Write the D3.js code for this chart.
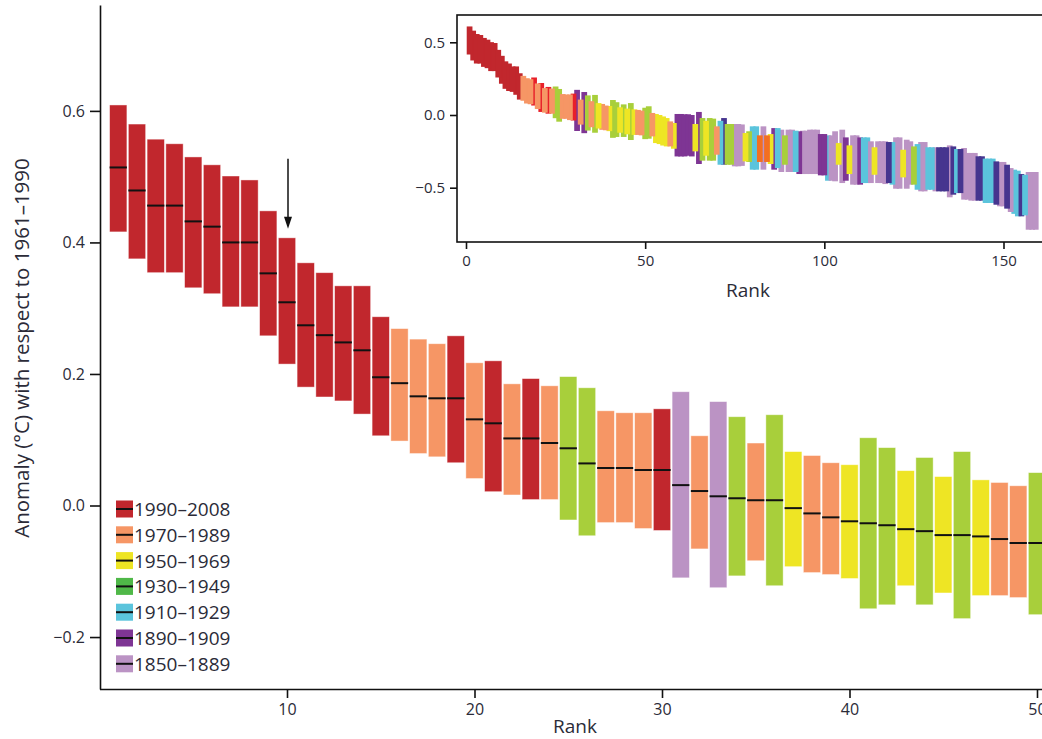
<!DOCTYPE html>
<html>
<head>
<meta charset="utf-8">
<script src="https://cdn.jsdelivr.net/npm/d3@7"></script>
<style>
  body { margin: 0; background: #fff; }
  svg { display: block; }
  text { font-family: "Open Sans", "Noto Sans", sans-serif; fill: #2b2b38; }
</style>
</head>
<body>
<svg id="chart" width="1042" height="739"></svg>
<script>
// Ranked annual global temperature anomalies (°C, relative to 1961–1990),
// each bar is the uncertainty range, the black tick the best estimate.

// Upper and lower bounds for ranks 1–159
const highs = [
  0.609, 0.580, 0.557, 0.550, 0.530, 0.518, 0.501, 0.495, 0.448, 0.407,
  0.369, 0.354, 0.334, 0.334, 0.287, 0.269, 0.253, 0.246, 0.258, 0.217,
  0.220, 0.185, 0.193, 0.182, 0.196, 0.179, 0.144, 0.141, 0.141, 0.147,
  0.173, 0.106, 0.158, 0.135, 0.095, 0.138, 0.082, 0.076, 0.065, 0.062,
  0.103, 0.088, 0.053, 0.073, 0.044, 0.082, 0.039, 0.035, 0.030, 0.050,
  0.060, 0.014, 0.007, 0.000, -0.010, -0.021, -0.044, -0.055, 0.007, 0.007,
  0.005, 0.005, 0.000, -0.062, 0.021, -0.021, -0.040, -0.021, -0.025, -0.078,
  -0.040, -0.021, -0.062, -0.062, -0.062, -0.062, -0.065, -0.124, -0.112, -0.078,
  -0.078, -0.140, -0.078, -0.140, -0.131, -0.090, -0.090, -0.101, -0.140, -0.101,
  -0.101, -0.108, -0.112, -0.108, -0.108, -0.101, -0.101, -0.101, -0.131, -0.131,
  -0.140, -0.140, -0.112, -0.193, -0.101, -0.154, -0.209, -0.140, -0.140, -0.154,
  -0.154, -0.154, -0.181, -0.222, -0.181, -0.181, -0.181, -0.186, -0.186, -0.154,
  -0.154, -0.239, -0.170, -0.181, -0.216, -0.200, -0.186, -0.186, -0.222, -0.222,
  -0.222, -0.222, -0.222, -0.222, -0.209, -0.216, -0.234, -0.234, -0.227, -0.261,
  -0.261, -0.261, -0.284, -0.284, -0.300, -0.300, -0.300, -0.319, -0.323, -0.323,
  -0.342, -0.365, -0.376, -0.383, -0.406, -0.411, -0.392, -0.392, -0.392
];
const lows = [
  0.416, 0.375, 0.354, 0.354, 0.331, 0.322, 0.302, 0.302, 0.258, 0.215,
  0.180, 0.165, 0.159, 0.139, 0.106, 0.098, 0.079, 0.074, 0.065, 0.041,
  0.021, 0.016, 0.009, 0.009, -0.022, -0.046, -0.026, -0.026, -0.035, -0.038,
  -0.110, -0.066, -0.125, -0.107, -0.084, -0.122, -0.093, -0.102, -0.105, -0.111,
  -0.157, -0.151, -0.122, -0.151, -0.133, -0.172, -0.137, -0.137, -0.140, -0.166,
  -0.163, -0.147, -0.193, -0.200, -0.210, -0.216, -0.216, -0.232, -0.285, -0.285,
  -0.285, -0.280, -0.285, -0.250, -0.337, -0.314, -0.280, -0.314, -0.314, -0.273,
  -0.342, -0.342, -0.342, -0.342, -0.353, -0.353, -0.350, -0.319, -0.323, -0.376,
  -0.376, -0.323, -0.376, -0.323, -0.337, -0.376, -0.365, -0.392, -0.342, -0.392,
  -0.392, -0.392, -0.406, -0.406, -0.406, -0.406, -0.406, -0.406, -0.415, -0.415,
  -0.452, -0.452, -0.456, -0.342, -0.468, -0.452, -0.406, -0.479, -0.479, -0.479,
  -0.468, -0.468, -0.468, -0.411, -0.468, -0.468, -0.475, -0.468, -0.479, -0.507,
  -0.507, -0.429, -0.507, -0.479, -0.479, -0.514, -0.525, -0.525, -0.514, -0.514,
  -0.525, -0.525, -0.525, -0.525, -0.566, -0.548, -0.537, -0.537, -0.582, -0.582,
  -0.589, -0.589, -0.589, -0.589, -0.605, -0.605, -0.605, -0.617, -0.628, -0.628,
  -0.644, -0.667, -0.680, -0.697, -0.697, -0.690, -0.789, -0.789, -0.789
];
// Best estimates for the 50 warmest years
const medians = [
  0.514, 0.479, 0.456, 0.456, 0.432, 0.424, 0.400, 0.400, 0.353, 0.309,
  0.274, 0.259, 0.248, 0.236, 0.195, 0.186, 0.166, 0.163, 0.163, 0.131,
  0.125, 0.102, 0.102, 0.095, 0.087, 0.064, 0.057, 0.057, 0.054, 0.054,
  0.031, 0.022, 0.014, 0.011, 0.008, 0.008, -0.004, -0.012, -0.018, -0.024,
  -0.027, -0.030, -0.036, -0.039, -0.045, -0.045, -0.047, -0.051, -0.057, -0.057
];

// Period of each ranked year (main panel, ranks 1–50)
const mainPeriod = [
  "R","R","R","R","R","R","R","R","R","R","R","R","R","R","R",
  "O","O","O","R","O","R","O","R","O","G","G","O","O","O","R",
  "L","O","L","G","O","G","Y","O","O","Y","G","G","Y","G","Y",
  "G","Y","O","O","G"
];
// Colour key of each ranked year in the small panel (ranks 1–159)
const insetPeriod = [
  "R","R","R","R","R","R","R","R","R","R","R","R","R","R","R",
  "O","O","O","B","O","B","O","B","O","G","G","O","O","O","B",
  "P","O","P","G","O","G","Y","O","O","Y","G","G","Y","G","Y",
  "G","Y","O","O","G",
  "G","O","Y","Y","Y","Y","O","Y","P","P",
  "P","P","P","Y","P","G","Y","G","G","O",
  "C","I","G","G","L","L","L","Y","G","C",
  "C","X","L","X","Y","P","C","L","G","L",
  "L","C","P","L","L","L","L","L","P","P",
  "C","L","L","Y","L","P","Y","L","L","P",
  "C","C","L","Y","L","L","L","I","C","L",
  "L","Y","L","L","G","C","L","L","C","C",
  "L","I","I","I","L","I","C","I","L","L",
  "L","L","I","I","C","C","C","I","L","L",
  "I","L","C","C","I","C","L","L","L"
];

const palette = {
  R: "#c1272d", O: "#f69665", Y: "#eee524", G: "#a8cf3b",
  C: "#5bc4dc", P: "#7e3594", L: "#bb93c4",
  B: "#e8202a", X: "#f36f21", I: "#46358f"
};

const legendLabels = ["1990–2008", "1970–1989", "1950–1969", "1930–1949", "1910–1929", "1890–1909", "1850–1889"];
const legendColors = ["#c1272d", "#f69665", "#eee524", "#4fb848", "#5bc4dc", "#7e3594", "#bb93c4"];

const mainTicksY = [-0.2, 0, 0.2, 0.4, 0.6];
const mainTicksX = [10, 20, 30, 40, 50];
const insetTicksY = [-0.5, 0, 0.5];
const insetTicksX = [0, 50, 100, 150];

const svg = d3.select("#chart");
const fmt = d3.format(".1f");

// ---------- main panel ----------
const x = d3.scaleLinear().domain([0, 51]).range([99.5, 1055.75]);
const y = d3.scaleLinear().domain([-0.279, 0.761]).range([689, 5]);
const step = x(1) - x(0);
const bw = step * 0.923;

const mainData = medians.map((m, i) => ({
  rank: i + 1, hi: highs[i], lo: lows[i], med: m, p: mainPeriod[i]
}));

const gMain = svg.append("g");
gMain.selectAll("rect.bar").data(mainData).join("rect")
  .attr("class", "bar")
  .attr("x", d => x(d.rank) - bw / 2)
  .attr("width", bw)
  .attr("y", d => y(d.hi))
  .attr("height", d => y(d.lo) - y(d.hi))
  .attr("fill", d => palette[d.p])
  .attr("stroke", "rgba(255,255,255,0.55)")
  .attr("stroke-width", 0.8);

gMain.selectAll("line.med").data(mainData).join("line")
  .attr("class", "med")
  .attr("x1", d => x(d.rank) - bw / 2)
  .attr("x2", d => x(d.rank) + bw / 2)
  .attr("y1", d => y(d.med))
  .attr("y2", d => y(d.med))
  .attr("stroke", "#111")
  .attr("stroke-width", 2);

// arrow marking the tenth-ranked year
const arrowRank = 10;
const ax = x(arrowRank) + 1;
const aTip = y(highs[arrowRank - 1]) - 9;
gMain.append("line")
  .attr("x1", ax).attr("x2", ax)
  .attr("y1", aTip - 70).attr("y2", aTip - 8)
  .attr("stroke", "#111").attr("stroke-width", 1.5);
gMain.append("path")
  .attr("d", `M${ax - 4},${aTip - 12}L${ax + 4},${aTip - 12}L${ax},${aTip}Z`)
  .attr("fill", "#111");

// axes
const yAxis = svg.append("g")
  .attr("transform", "translate(100,0)")
  .call(d3.axisLeft(y).tickValues(mainTicksY).tickFormat(fmt).tickSize(10).tickSizeOuter(0).tickPadding(5));
const xAxis = svg.append("g")
  .attr("transform", "translate(0,689)")
  .call(d3.axisBottom(x).tickValues(mainTicksX).tickFormat(d3.format("d")).tickSize(9).tickSizeOuter(0).tickPadding(6));
[yAxis, xAxis].forEach(a => {
  a.select(".domain").attr("stroke", "#111").attr("stroke-width", 1.6);
  a.selectAll(".tick line").attr("stroke", "#111").attr("stroke-width", 1.6);
  a.selectAll(".tick text").attr("font-size", 16).attr("fill", "#2b2b38")
    .attr("font-family", "\"Open Sans\", sans-serif");
});

svg.append("text")
  .attr("transform", "translate(29,348) rotate(-90)")
  .attr("text-anchor", "middle")
  .attr("font-size", 20.5)
  .text("Anomaly (°C) with respect to 1961–1990");
svg.append("text")
  .attr("x", 575).attr("y", 733)
  .attr("text-anchor", "middle")
  .attr("font-size", 19)
  .text("Rank");

// legend
const leg = svg.append("g");
legendLabels.forEach((lab, i) => {
  const cy = 509 + i * 25.8;
  leg.append("rect").attr("x", 116).attr("y", cy - 8.5).attr("width", 17).attr("height", 17)
    .attr("fill", legendColors[i]);
  leg.append("line").attr("x1", 116).attr("x2", 133).attr("y1", cy).attr("y2", cy)
    .attr("stroke", "#111").attr("stroke-width", 2);
  leg.append("text").attr("x", 134).attr("y", cy + 7).attr("font-size", 19).text(lab);
});

// ---------- inset: all ranks ----------
const ix = d3.scaleLinear().domain([0, 150]).range([466, 1003.5]);
const iy = d3.scaleLinear().domain([-0.5, 0.5]).range([187.7, 42.3]);
const iStep = ix(1) - ix(0);
const iw = iStep * 1.6;

const gInset = svg.append("g");
gInset.append("rect")
  .attr("x", 457).attr("y", 15).attr("width", 620).attr("height", 227)
  .attr("fill", "#fff");

const insetData = highs.map((h, i) => ({ rank: i + 1, hi: h, lo: lows[i], p: insetPeriod[i] }))
  .sort((a, b) => (b.hi - b.lo) - (a.hi - a.lo));

gInset.selectAll("rect.ibar").data(insetData).join("rect")
  .attr("class", "ibar")
  .attr("x", d => ix(d.rank) - iw / 2)
  .attr("width", iw)
  .attr("y", d => iy(d.hi))
  .attr("height", d => iy(d.lo) - iy(d.hi))
  .attr("fill", d => palette[d.p]);

gInset.append("rect")
  .attr("x", 457).attr("y", 15).attr("width", 620).attr("height", 227)
  .attr("fill", "none").attr("stroke", "#111").attr("stroke-width", 1.6);

const iyAxis = gInset.append("g")
  .attr("transform", "translate(457,0)")
  .call(d3.axisLeft(iy).tickValues(insetTicksY).tickFormat(fmt).tickSize(7).tickPadding(5));
const ixAxis = gInset.append("g")
  .attr("transform", "translate(0,242)")
  .call(d3.axisBottom(ix).tickValues(insetTicksX).tickFormat(d3.format("d")).tickSize(7).tickPadding(6));
[iyAxis, ixAxis].forEach(a => {
  a.select(".domain").remove();
  a.selectAll(".tick line").attr("stroke", "#111").attr("stroke-width", 1.6);
  a.selectAll(".tick text").attr("font-size", 15).attr("fill", "#2b2b38")
    .attr("font-family", "\"Open Sans\", sans-serif");
});
gInset.append("text")
  .attr("x", 748).attr("y", 297)
  .attr("text-anchor", "middle")
  .attr("font-size", 19)
  .text("Rank");
</script>
</body>
</html>
